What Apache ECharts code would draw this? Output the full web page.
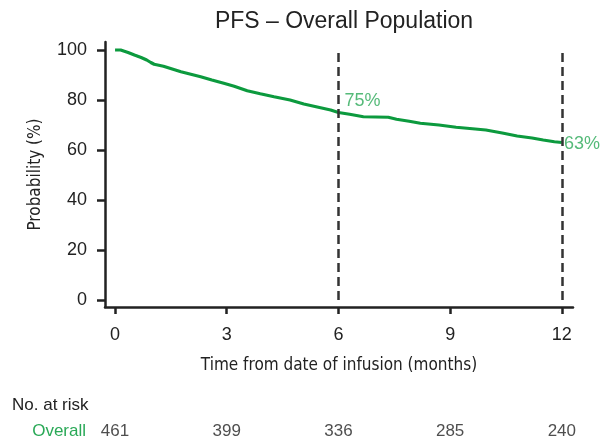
<!DOCTYPE html>
<html>
<head>
<meta charset="utf-8">
<script src="https://cdn.jsdelivr.net/npm/echarts@6/dist/echarts.min.js"></script>
<style>html,body{margin:0;padding:0;background:#fff}#c{width:605px;height:443px}</style>
</head>
<body>
<div id="c"></div>
<script>
// Kaplan-Meier estimate (months, %)
const months = [0,0.15,0.25,0.35,0.52,0.7,0.85,0.96,1.05,1.3,1.77,2.3,2.6,2.92,3.2,3.55,3.9,4.27,4.7,5.07,5.4,5.79,6,6.3,6.67,7.0,7.34,7.56,7.9,8.2,8.7,9.16,9.6,9.96,10.4,10.8,11.2,11.5,11.8,12];
const pfs = [100,100,99.5,99,98,97,96,95,94.3,93.5,91.3,89.3,88,86.7,85.5,83.7,82.5,81.3,80,78.4,77.3,76,75,74.3,73.3,73.2,73.1,72.3,71.5,70.7,70,69.1,68.5,68,66.8,65.6,64.8,64,63.3,63];
const xTicks = [0,3,6,9,12];
const yTicks = [0,20,40,60,80,100];
const landmarkMonths = [6,12];
const landmarkPct = [75,63];
const atRiskTimes = [0,3,6,9,12];
const atRiskOverall = [461,399,336,285,240];

const green = '#0c9a3e';
const labelGreen = '#2aa957';
const ink = '#222';
const FONT = '"Liberation Sans", Arial, sans-serif';
const NARROW = '"DejaVu Sans Condensed", "Liberation Sans Narrow", sans-serif';

const chart = echarts.init(document.getElementById('c'), null, {renderer:'canvas'});
const curve = months.map((m,i)=>[m,pfs[i]]);
const markLines = landmarkMonths.map(m=>[{coord:[m,0]},{coord:[m,100]}]);
const lmData = landmarkMonths.map((m,i)=>[m,landmarkPct[i],landmarkPct[i]+'%']);
const riskData = atRiskTimes.map((t,i)=>[t,'Overall',atRiskOverall[i]]);

chart.setOption({
  animation:false,
  backgroundColor:'#fff',
  title:[
    {text:'PFS – Overall Population', left:339, top:5, textAlign:'center',
     textStyle:{fontFamily:FONT, fontSize:23, fontWeight:'normal', color:ink}},
    {text:'No. at risk', left:7, top:392,
     textStyle:{fontFamily:FONT, fontSize:17, fontWeight:'normal', color:ink}}
  ],
  grid:[
    {left:105, right:32, top:42, bottom:136},
    {left:105, right:32, top:420, height:22}
  ],
  xAxis:[
    {type:'value', gridIndex:0, min:-0.27, max:12.3,
     name:'Time from date of infusion (months)', nameLocation:'middle', nameGap:50,
     nameTextStyle:{fontFamily:NARROW, fontSize:17, color:ink},
     axisLine:{show:true, onZero:false, lineStyle:{color:ink, width:2.5}},
     axisTick:{show:true, customValues:xTicks, length:7, lineStyle:{color:ink, width:2.5}},
     axisLabel:{customValues:xTicks, margin:19, fontFamily:FONT, fontSize:18, color:ink},
     splitLine:{show:false}},
    {type:'value', gridIndex:1, min:-0.27, max:12.3, show:false}
  ],
  yAxis:[
    {type:'value', gridIndex:0, min:-2.8, max:103.2,
     name:'Probability (%)', nameLocation:'middle', nameGap:61, nameRotate:90,
     nameTextStyle:{fontFamily:NARROW, fontSize:17, color:ink},
     axisLine:{show:true, onZero:false, lineStyle:{color:ink, width:2.5}},
     axisTick:{show:true, customValues:yTicks, length:8, lineStyle:{color:ink, width:2.5}},
     axisLabel:{customValues:yTicks, margin:18, fontFamily:FONT, fontSize:18, color:ink},
     splitLine:{show:false}},
    {type:'category', gridIndex:1, data:['Overall'],
     axisLine:{show:false}, axisTick:{show:false},
     axisLabel:{margin:19, fontFamily:FONT, fontSize:17, color:labelGreen}}
  ],
  series:[
    {type:'line', xAxisIndex:0, yAxisIndex:0, data:curve, showSymbol:false, symbol:'none',
     lineStyle:{color:green, width:3.2}, z:3,
     markLine:{silent:true, symbol:['none','none'], label:{show:false},
       lineStyle:{color:'#333', width:2.5, type:[9,5]}, data:markLines}},
    {type:'scatter', xAxisIndex:0, yAxisIndex:0, data:lmData, symbolSize:0.1,
     label:{show:true, position:'right', formatter:p=>p.value[2],
       fontFamily:FONT, fontSize:18, color:labelGreen},
     labelLayout:function(p){ return p.dataIndex===0 ? {dy:-11, dx:1} : {dy:2, dx:-3}; }},
    {type:'scatter', xAxisIndex:1, yAxisIndex:1, data:riskData, symbolSize:0.1,
     label:{show:true, position:'inside', formatter:p=>String(p.value[2]),
       fontFamily:FONT, fontSize:17, color:ink}}
  ]
});
</script>
</body>
</html>
